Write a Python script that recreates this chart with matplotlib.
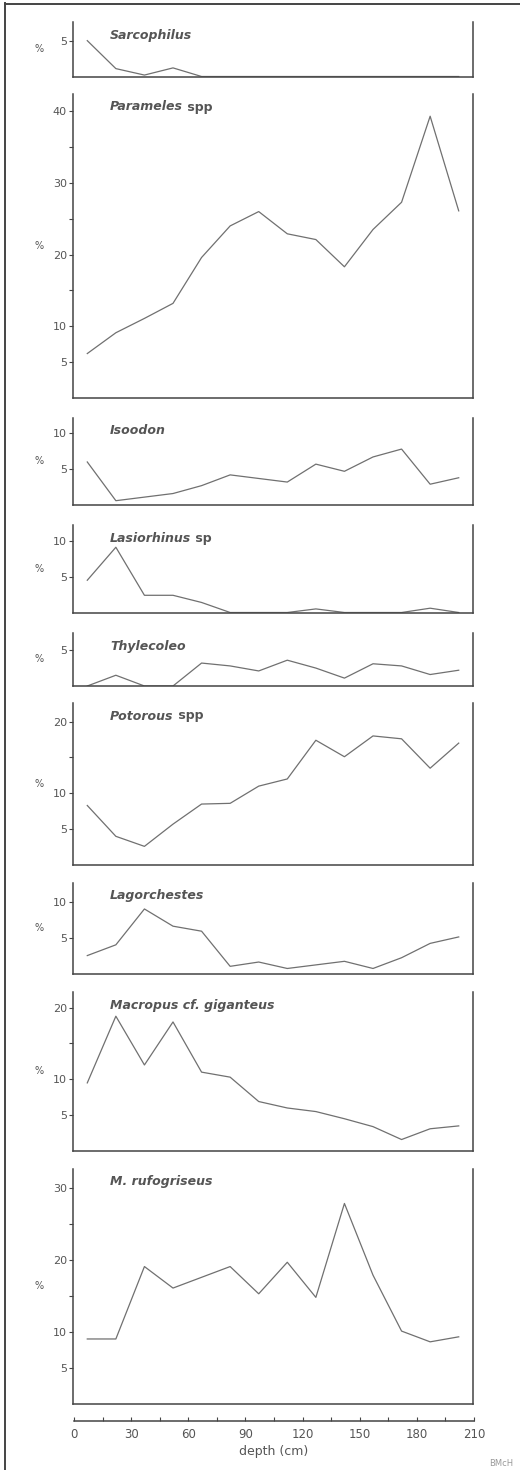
import matplotlib
matplotlib.use("Agg")
import matplotlib.pyplot as plt
from matplotlib.lines import Line2D
from matplotlib.ticker import MultipleLocator, FixedLocator

# profondità (punto medio di ogni livello da 15 cm)
depth = [7.5, 22.5, 37.5, 52.5, 67.5, 82.5, 97.5, 112.5, 127.5, 142.5, 157.5, 172.5, 187.5, 202.5]

# percentuali
sarcophilus = [5.0, 1.1, 0.2, 1.2, 0, 0, 0, 0, 0, 0, 0, 0, 0, 0]
parameles = [6.2, 9.1, 11.1, 13.2, 19.6, 24.0, 26.0, 22.9, 22.1, 18.3, 23.5, 27.3, 39.3, 26.1]
isoodon = [6.0, 0.6, 1.1, 1.6, 2.7, 4.2, 3.7, 3.2, 5.7, 4.7, 6.7, 7.8, 2.9, 3.8]
lasiorhinus = [4.5, 9.1, 2.4, 2.4, 1.4, 0, 0, 0, 0.5, 0, 0, 0, 0.6, 0]
thylecoleo = [0, 1.5, 0, 0, 3.2, 2.8, 2.1, 3.6, 2.5, 1.1, 3.1, 2.8, 1.6, 2.2]
potorous = [8.3, 4.0, 2.6, 5.7, 8.5, 8.6, 11.0, 12.0, 17.4, 15.1, 18.0, 17.6, 13.5, 17.0]
lagorchestes = [2.5, 4.0, 9.0, 6.6, 5.9, 1.0, 1.6, 0.7, 1.2, 1.7, 0.7, 2.2, 4.2, 5.1]
macropus = [9.5, 18.8, 12.0, 18.0, 11.0, 10.3, 6.9, 6.0, 5.5, 4.5, 3.4, 1.6, 3.1, 3.5]
rufogriseus = [9.0, 9.0, 19.1, 16.1, 17.6, 19.1, 15.3, 19.7, 14.8, 27.9, 17.9, 10.1, 8.6, 9.3]

# titoli: parte in corsivo + parte dritta
title_italic = ["Sarcophilus", "Parameles", "Isoodon", "Lasiorhinus", "Thylecoleo",
                "Potorous", "Lagorchestes", "Macropus cf. giganteus", "M. rufogriseus"]
title_plain = ["", " spp", "", " sp", "", " spp", "", "", ""]
series = [sarcophilus, parameles, isoodon, lasiorhinus, thylecoleo,
          potorous, lagorchestes, macropus, rufogriseus]

depth_ticks = [0, 30, 60, 90, 120, 150, 180, 210]

# layout in pixel (top, bottom) di ogni pannello
W, H = 520, 1470
X0, XW = 73, 400
panel_box = [(22, 76.5), (94, 398), (418, 505), (525, 612.5), (633, 686),
             (703, 865), (883, 973.5), (992, 1151), (1169, 1403.5)]
PX_PER_UNIT = 7.17

TXT = "#555555"
LINE = "#707070"
SPINE = "#444444"
PT = 72 / 100  # punti per pixel

fig = plt.figure(figsize=(W / 100, H / 100), dpi=100)
plt.rcParams["font.family"] = ["DejaVu Sans"]

for i, (top, bottom) in enumerate(panel_box):
    ax = fig.add_axes([X0 / W, 1 - bottom / H, XW / W, (bottom - top) / H])
    ymax = (bottom - top) / PX_PER_UNIT
    ax.plot(depth, series[i], color=LINE, lw=0.9)
    ax.set_xlim(0, 210)
    ax.set_ylim(0, ymax)
    ax.spines["top"].set_visible(False)
    for s in ["left", "right", "bottom"]:
        ax.spines[s].set_color(SPINE)
        ax.spines[s].set_linewidth(1.1)
    ax.set_xticks([])
    ticks = [v for v in range(5, int(ymax) + 1, 5)]
    ax.set_yticks(ticks)
    ax.set_yticklabels([str(v) if (v == 5 or v % 10 == 0) else "" for v in ticks])
    ax.tick_params(axis="y", length=3, width=0.8, color=SPINE, labelsize=8,
                   labelcolor=TXT, pad=1.5)
    ax.patch.set_alpha(0)

    # "%" a sinistra
    ax.annotate("%", xy=(0, 0.5), xycoords="axes fraction", xytext=(-34 * PT, 0),
                textcoords="offset points", ha="center", va="center",
                fontsize=7, color=TXT)

    # titolo
    t = ax.annotate(title_italic[i], xy=(0, 1), xycoords="axes fraction",
                    xytext=((110 - X0) * PT, -16.5 * PT), textcoords="offset points",
                    ha="left", va="baseline", fontsize=9, fontweight="bold",
                    fontstyle="italic", color=TXT)
    if title_plain[i]:
        ax.annotate(title_plain[i], xy=(1, 0), xycoords=t, ha="left", va="bottom",
                    fontsize=9, fontweight="bold", color=TXT)

# asse delle profondità
axd = fig.add_axes([(X0 + 1) / W, 1 - 1421 / H, XW / W, 0.0001])
axd.set_xlim(0, 210)
axd.set_yticks([])
for s in ["left", "right", "top"]:
    axd.spines[s].set_visible(False)
axd.spines["bottom"].set_color(SPINE)
axd.spines["bottom"].set_linewidth(1.1)
axd.xaxis.set_major_locator(FixedLocator(depth_ticks))
axd.xaxis.set_minor_locator(MultipleLocator(15))
axd.tick_params(axis="x", which="both", direction="in", length=3, width=0.8,
                color=SPINE, labelsize=8.5, labelcolor=TXT, pad=5)
axd.set_xlabel("depth (cm)", fontsize=9, color=TXT, labelpad=3)
axd.patch.set_alpha(0)

# cornice a sinistra e in alto
fig.add_artist(Line2D([5 / W, 5 / W], [0, 1 - 3 / H], transform=fig.transFigure,
                      color=SPINE, lw=1.4))
fig.add_artist(Line2D([5 / W, 1], [1 - 4 / H, 1 - 4 / H], transform=fig.transFigure,
                      color=SPINE, lw=1.4))

fig.text(489 / W, 1 - 1463 / H, "BMcH", fontsize=6, color="#999999",
         ha="left", va="center")

fig.savefig("out.png", dpi=100)
